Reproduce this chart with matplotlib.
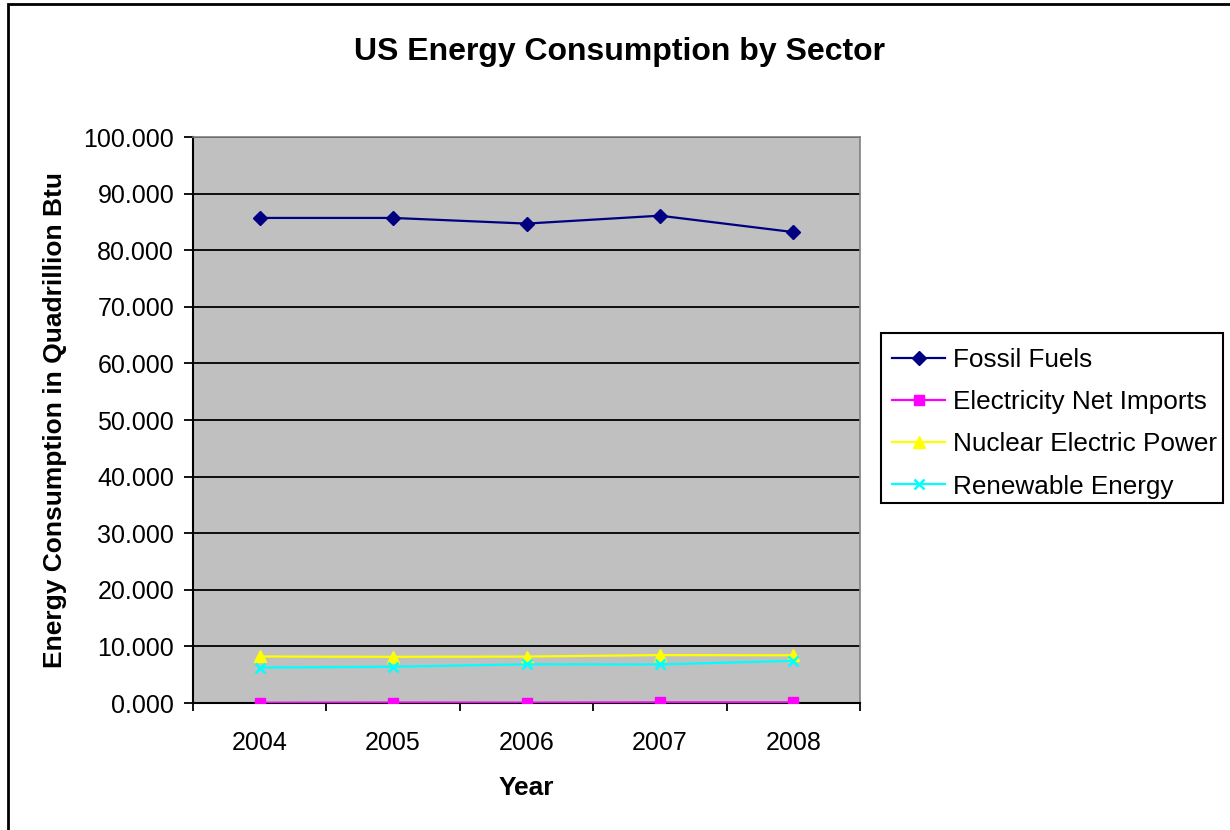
import matplotlib
matplotlib.use("Agg")
import matplotlib.pyplot as plt
from matplotlib.patches import Rectangle
from matplotlib.ticker import FixedLocator, FormatStrFormatter

plt.rcParams['font.family'] = ['Liberation Sans', 'DejaVu Sans']

years = ["2004", "2005", "2006", "2007", "2008"]
fossil_fuels = [85.7, 85.7, 84.7, 86.1, 83.2]
electricity_net_imports = [0.04, 0.08, 0.06, 0.11, 0.11]
nuclear_power = [8.22, 8.16, 8.21, 8.46, 8.43]
renewable_energy = [6.26, 6.41, 6.84, 6.81, 7.45]

series_names = ["Fossil Fuels", "Electricity Net Imports",
                "Nuclear Electric Power", "Renewable Energy"]

W, H = 1230, 830
fig = plt.figure(figsize=(W / 100, H / 100), dpi=100)
fig.patch.set_facecolor("white")

# outer chart frame (left and top edges visible)
fig.add_artist(Rectangle((8 / W, -0.05), 1.2, 1 - 4 / H + 0.05,
                         transform=fig.transFigure, fill=False,
                         edgecolor="black", linewidth=2.0))

ax = fig.add_axes([193 / W, 1 - 703 / H, (860 - 193) / W, (703 - 137) / H])
ax.set_facecolor("#c0c0c0")

x = list(range(len(years)))
ax.plot(x, fossil_fuels, color="#000080", marker="D", markersize=7.5,
        linewidth=1.6, label=series_names[0], zorder=3)
ax.plot(x, electricity_net_imports, color="#ff00ff", marker="s", markersize=7.5,
        linewidth=1.6, label=series_names[1], zorder=3)
ax.plot(x, nuclear_power, color="#ffff00", marker="^", markersize=9,
        linewidth=1.6, label=series_names[2], zorder=3)
ax.plot(x, renewable_energy, color="#00ffff", marker="x", markersize=7,
        markeredgewidth=1.8, linewidth=1.6, label=series_names[3], zorder=3)

ax.set_xlim(-0.5, len(years) - 0.5)
ax.set_ylim(0, 100)
ax.yaxis.set_major_locator(FixedLocator([i * 10 for i in range(11)]))
ax.yaxis.set_major_formatter(FormatStrFormatter("%.3f"))
ax.grid(axis="y", color="black", linewidth=1.3, zorder=1)
ax.set_axisbelow(True)

ax.set_xticks(x)
ax.set_xticklabels(years)
ax.set_xticks([i - 0.5 for i in range(len(years) + 1)], minor=True)
ax.tick_params(axis="x", which="major", length=0, pad=20, labelsize=18)
ax.tick_params(axis="x", which="minor", length=6, width=1.3, direction="out")
ax.tick_params(axis="y", which="major", length=6.5, width=1.3, direction="out",
               labelsize=18, pad=7)

for side in ["top", "right"]:
    ax.spines[side].set_color("#808080")
    ax.spines[side].set_linewidth(1.2)
for side in ["left", "bottom"]:
    ax.spines[side].set_color("black")
    ax.spines[side].set_linewidth(1.5)

ax.set_xlabel("Year", fontsize=19, fontweight="bold", labelpad=15)
ax.set_ylabel("Energy Consumption in Quadrillion Btu", fontsize=19,
              fontweight="bold", labelpad=12)

fig.text(620 / W, 1 - 60 / H, "US Energy Consumption by Sector",
         ha="center", va="baseline", fontsize=23, fontweight="bold")

# legend entries without their own frame; a fixed box is drawn around them
leg = fig.legend(loc="upper left", bbox_to_anchor=(880 / W, 1 - 336 / H),
                 fontsize=18.8, frameon=False, handlelength=2.05,
                 borderpad=0.45, labelspacing=0.7, handletextpad=0.3,
                 borderaxespad=0, markerscale=1.0)
fig.add_artist(Rectangle((881 / W, 1 - 503 / H), (1223 - 881) / W,
                         (503 - 333) / H, transform=fig.transFigure,
                         fill=False, edgecolor="black", linewidth=1.5))

fig.savefig("out.png", dpi=100)
